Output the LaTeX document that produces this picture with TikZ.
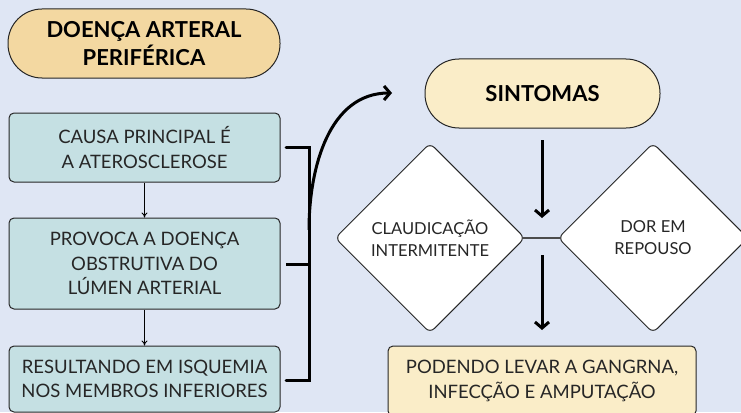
\documentclass[tikz,border=0pt]{standalone}
\usepackage{fontspec}
\setmainfont{Lato}
\usepackage{tikz}
\usetikzlibrary{positioning, shapes.geometric, arrows.meta}
\definecolor{bgblue}{RGB}{223,230,244}
\definecolor{tan}{RGB}{243,216,161}
\definecolor{cream}{RGB}{250,237,200}
\definecolor{teal}{RGB}{197,224,227}
\tikzstyle{block} = [rectangle, draw=black!85, line width=1pt, fill=teal,
                 rounded corners=5pt, minimum width=271pt, align=center,
                 text=black!85, font=\fontsize{18.5}{24.5}\selectfont]
\tikzset{
	pill/.style={rectangle, draw=black!85, line width=1pt, rounded corners=34pt,
		minimum height=69pt, align=center, font=\fontsize{22}{28}\selectfont\bfseries},
	choice/.style={diamond, draw=black!85, line width=1pt, fill=white,
		rounded corners=6pt, minimum width=190pt, minimum height=190pt,
		inner sep=0pt, align=center, text=black!85, font=\fontsize{16.5}{22}\selectfont},
	thin arrow/.style={-{To[length=5pt,width=6pt]}, line width=0.8pt},
	thick arrow/.style={-{Straight Barb[length=6pt,width=14pt,line width=3pt]}, line width=3pt},
}

\begin{document}
\begin{tikzpicture}[x=1pt, y=-1pt]

\fill[bgblue] (0,0) rectangle (741,412);
\clip (0,0) rectangle (741,412);

\node [pill, fill=tan, minimum width=272pt] at (144,43.5) (title) {DOENÇA ARTERAL\\PERIFÉRICA};

\node [block, minimum height=69pt] at (144.5,147.5) (causa) {CAUSA PRINCIPAL É\\A ATEROSCLEROSE};
\node [block, minimum height=91pt] at (144.5,263.5) (provoca) {PROVOCA A DOENÇA\\OBSTRUTIVA DO\\LÚMEN ARTERIAL};
\node [block, minimum height=66pt] at (144.5,379) (isquemia) {RESULTANDO EM ISQUEMIA\\NOS MEMBROS INFERIORES};

\draw [thin arrow] (causa) -- (provoca);
\draw [thin arrow] (provoca) -- (isquemia);

%bracket
\coordinate (join) at (309,230);
\draw [line width=3pt, line cap=round] (286,147) -| (309,380) -- (286,380);
\draw [line width=3pt] (286,264) -- (309,264);

\node [pill, fill=cream, minimum width=235pt] at (542.5,93.5) (sintomas) {SINTOMAS};
\draw [thick arrow] (join) to[out=90, in=180] (392,93);

\node [choice] at (430,238) (claud) {CLAUDICAÇÃO\\INTERMITENTE};
\node [choice] at (653,238) (dor) {DOR EM\\REPOUSO};
\draw [line width=1.5pt, draw=black!70, shorten <=-3pt, shorten >=-3pt] (claud.east) -- (dor.west);

\node [block, fill=cream, minimum width=308pt, minimum height=70pt] at (542,381) (levar) {PODENDO LEVAR A GANGRNA,\\INFECÇÃO E AMPUTAÇÃO};

\draw [thick arrow] (542,140) -- (542,218);
\draw [thick arrow] (542,255) -- (542,330);

\end{tikzpicture}
\end{document}
